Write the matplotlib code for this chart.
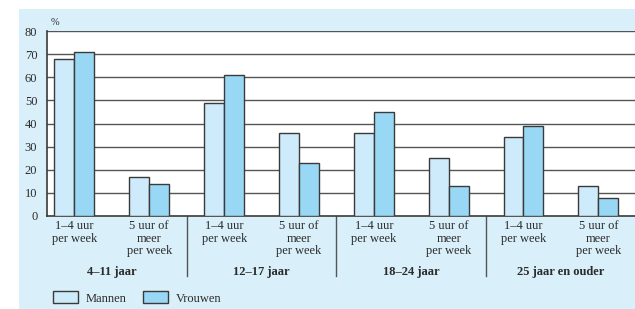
import matplotlib.pyplot as plt
import numpy as np
from matplotlib.patches import Rectangle, Patch

# data
groups = ["4–11 jaar", "12–17 jaar", "18–24 jaar", "25 jaar en ouder"]
sub_labels = ["1–4 uur\nper week", "5 uur of\nmeer\nper week"]
mannen = [68, 17, 49, 36, 36, 25, 34, 13]
vrouwen = [71, 14, 61, 23, 45, 13, 39, 8]

c_man = "#cdebfa"
c_vrouw = "#99d8f4"
c_bg = "#d9eff9"
c_edge = "#3a3a3a"
c_text = "#2b2b2b"

plt.rcParams["font.family"] = ["Liberation Serif", "DejaVu Serif"]

fig = plt.figure(figsize=(6.35, 3.09), dpi=100)
fig.patches.append(Rectangle((19 / 635, 0), 1 - 19 / 635, 1 - 9 / 309,
                             transform=fig.transFigure, facecolor=c_bg,
                             edgecolor="none", zorder=-10))

ax = fig.add_axes([47 / 635, 1 - 216 / 309, 1 - 47 / 635, 185 / 309])
ax.set_facecolor("white")

x = np.arange(len(mannen))
w = 0.267
ax.bar(x - w / 2, mannen, w, color=c_man, edgecolor=c_edge, linewidth=1.0, zorder=3)
ax.bar(x + w / 2, vrouwen, w, color=c_vrouw, edgecolor=c_edge, linewidth=1.0, zorder=3)

ax.set_ylim(0, 80)
ax.set_xlim(-0.367, 7.49)
ax.set_yticks(range(0, 81, 10))
for v in range(10, 81, 10):
    ax.axhline(v, color="#555555", linewidth=1.0, zorder=1)

for s in ["top", "right"]:
    ax.spines[s].set_visible(False)
ax.spines["left"].set_color(c_edge)
ax.spines["bottom"].set_color(c_edge)
ax.spines["left"].set_linewidth(1.2)
ax.spines["bottom"].set_linewidth(1.2)
ax.tick_params(axis="y", length=0, pad=7, labelsize=9, labelcolor=c_text)
ax.tick_params(axis="x", length=0, pad=3, labelsize=9, labelcolor=c_text)
ax.set_xticks(x)
ax.set_xticklabels(sub_labels * len(groups), linespacing=1.05, va="top")

ax.text(51 / 635 - 47 / 635, 1.045, "%", transform=ax.transAxes, fontsize=7.5,
        color=c_text, ha="left", va="center")

trans = ax.get_xaxis_transform()
for i, g in enumerate(groups):
    ax.text(2 * i + 0.5, -0.305, g, transform=trans, ha="center", va="center",
            fontsize=9, fontweight="bold", color=c_text)
for i in range(1, len(groups)):
    ax.plot([2 * i - 0.5, 2 * i - 0.5], [0, -0.325], transform=trans,
            color="#555555", linewidth=1.0, clip_on=False)

handles = [Patch(facecolor=c_man, edgecolor=c_edge, linewidth=1.0, label="Mannen"),
           Patch(facecolor=c_vrouw, edgecolor=c_edge, linewidth=1.0, label="Vrouwen")]
fig.legend(handles=handles, loc="center left", bbox_to_anchor=(42 / 635, 1 - 298 / 309),
           ncol=2, frameon=False, fontsize=9, handlelength=2.0, handleheight=1.1,
           columnspacing=1.3, handletextpad=0.6, labelcolor=c_text)

fig.savefig("out.png", dpi=100)
